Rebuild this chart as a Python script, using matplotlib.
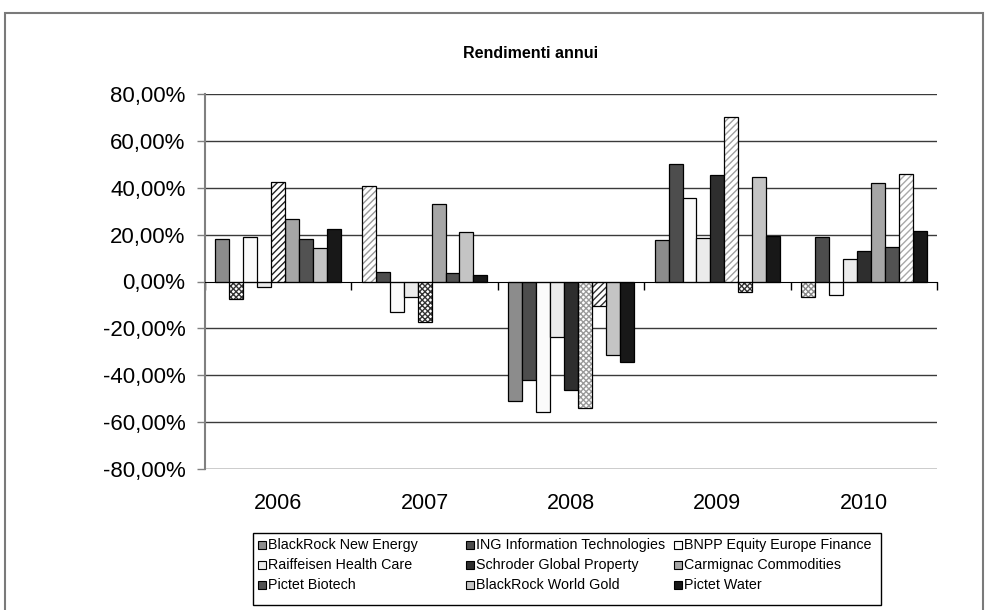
import numpy as np
import matplotlib.pyplot as plt
from matplotlib.patches import Rectangle
from matplotlib.transforms import blended_transform_factory

plt.rcParams['font.family'] = ['Liberation Sans', 'DejaVu Sans']
plt.rcParams['hatch.linewidth'] = 1.0

years = ['2006', '2007', '2008', '2009', '2010']
funds = ['BlackRock New Energy', 'ING Information Technologies', 'BNPP Equity Europe Finance',
         'Raiffeisen Health Care', 'Schroder Global Property', 'Carmignac Commodities',
         'Pictet Biotech', 'BlackRock World Gold', 'Pictet Water']

# yearly returns (%) per fund; nan = slot covered by an overlay series
blackrock_ne = [18.2, np.nan, -51.0, 17.7, np.nan]
ing_it = [np.nan, 4.0, -42.1, 50.0, 19.0]
bnpp = [19.0, -12.8, -55.6, 35.6, -5.7]
raiffeisen = [-2.4, -6.8, -23.5, 18.4, 9.4]
schroder = [np.nan, np.nan, -46.5, 45.4, 13.2]
carmignac = [26.5, 32.9, np.nan, np.nan, 42.0]
pictet_bio = [18.2, 3.6, np.nan, np.nan, 14.7]
br_gold = [14.4, 21.1, -31.2, 44.6, np.nan]
pictet_water = [22.2, 2.6, -34.3, 19.6, 21.6]

# overlay series (secondary axis in the original) and their slot per year
striped = [42.4, 40.6, -10.4, 70.2, 45.9]
striped_slot = [4, 0, 6, 5, 7]
checked = [-7.4, -17.3, -54.0, -4.5, -6.4]
checked_slot = [1, 4, 5, 6, 0]

series = [blackrock_ne, ing_it, bnpp, raiffeisen, schroder, carmignac,
          pictet_bio, br_gold, pictet_water]
colors = ['#8c8c8c', '#4d4d4d', '#fbfbfb', '#ebebeb', '#2e2e2e', '#a6a6a6',
          '#525252', '#c4c4c4', '#181818']
stripe_ink = ['#222222', '#999999', '#333333', '#a0a0a0', '#a8a8a8']
check_ink = ['#333333', '#333333', '#9a9a9a', '#333333', '#8a8a8a']

W, H = 988, 610
fig = plt.figure(figsize=(W / 100, H / 100), dpi=100)
fig.patches.append(Rectangle((5 / W, -0.05), 978 / W, 1.05 - 13 / H, transform=fig.transFigure,
                             fill=False, edgecolor='#7a7a7a', linewidth=1.5))
ax = fig.add_axes([205 / W, (H - 469) / H, 732 / W, 375 / H])

x = np.arange(len(years))
w = 1 / 10.5
for i, vals in enumerate(series):
    ax.bar(x + (i - 4) * w, vals, w, color=colors[i], edgecolor='black', linewidth=0.9, zorder=3)

for j in range(len(years)):
    for vals, slots, inks, pat in [(striped, striped_slot, stripe_ink, '/////'),
                                   (checked, checked_slot, check_ink, 'xxxxxx')]:
        xx = x[j] + (slots[j] - 4) * w
        ax.bar(xx, vals[j], w, color='white', hatch=pat, edgecolor=inks[j], linewidth=0, zorder=3)
        ax.bar(xx, vals[j], w, fill=False, edgecolor='black', linewidth=0.9, zorder=4)

ax.set_xlim(-0.5, 4.5)
ax.set_ylim(-80, 80)
yt = np.arange(-80, 81, 20)
ax.set_yticks(yt)
ax.set_yticklabels([f'{v},00%' for v in yt], fontsize=16)
ax.tick_params(axis='y', direction='out', length=6, width=1, color='#808080', pad=8)
for v in yt:
    if v != 0:
        ax.axhline(v, color='#3a3a3a' if v != -80 else 'black', linewidth=1, zorder=1)

ax.spines['bottom'].set_position(('data', 0))
ax.spines['bottom'].set_color('black')
ax.spines['bottom'].set_zorder(5)
ax.spines['left'].set_color('#808080')
ax.spines['left'].set_linewidth(1.5)
ax.spines['top'].set_visible(False)
ax.spines['right'].set_visible(False)
ax.set_xticks(np.arange(-0.5, 4.6, 1))
ax.set_xticklabels([])
ax.tick_params(axis='x', direction='out', length=6, width=1, color='black')

tr = blended_transform_factory(ax.transData, ax.transAxes)
for j, yr in enumerate(years):
    ax.text(x[j], -0.093, yr, transform=tr, ha='center', va='center', fontsize=15.5)

fig.text(531 / W, 1 - 53 / H, 'Rendimenti annui', ha='center', va='center',
         fontsize=11.5, fontweight='bold')

# legend, laid out like the Excel one (3 equal columns, row-major)
fig.patches.append(Rectangle((253 / W, 1 - 605 / H), 628 / W, 72 / H, transform=fig.transFigure,
                             fill=False, edgecolor='black', linewidth=1))
col_x = [258, 466, 674]
row_y = [545, 565, 585]
for k, name in enumerate(funds):
    cx, cy = col_x[k % 3], row_y[k // 3]
    fig.patches.append(Rectangle((cx / W, 1 - (cy + 4) / H), 8 / W, 8 / H,
                                 transform=fig.transFigure, facecolor=colors[k],
                                 edgecolor='black', linewidth=0.8))
    fig.text((cx + 10) / W, 1 - cy / H, name, ha='left', va='center', fontsize=10.3)

fig.savefig('out.png', dpi=100, facecolor='white')
